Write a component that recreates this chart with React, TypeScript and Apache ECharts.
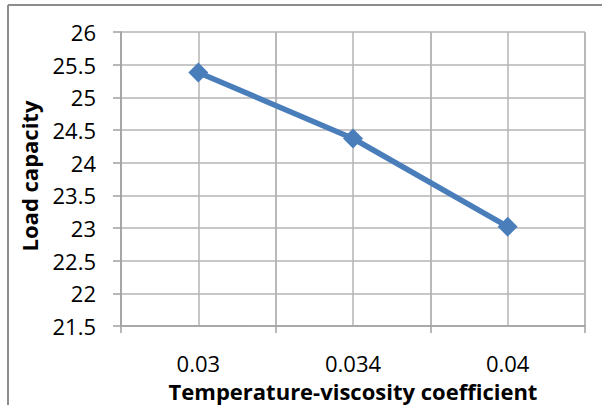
import React, { useEffect, useRef } from "react";
import * as echarts from "echarts";

// Temperature-viscosity coefficient vs. load capacity
const categories: string[] = ["0.03", "0.034", "0.04"];
const loadCapacity: number[] = [25.38, 24.37, 23.02];
const yMin = 21.5;
const yMax = 26;
const yStep = 0.5;

const xTitle = "Temperature-viscosity coefficient";
const yTitle = "Load capacity";

const FONT = "'Open Sans', sans-serif";
const GRID = "#b4b4b4";
const AXIS = "#a0a0a0";
const LINE = "#4a7ebb";

export default function App() {
  const ref = useRef<HTMLDivElement>(null);

  useEffect(() => {
    if (!ref.current) return;
    const chart = echarts.init(ref.current, null, { renderer: "svg" });
    chart.setOption({
      animation: false,
      backgroundColor: "#ffffff",
      grid: { left: 121, right: 17, top: 32, bottom: 79, containLabel: false },
      xAxis: [
        {
          type: "category",
          data: categories,
          boundaryGap: true,
          axisLine: { show: true, lineStyle: { color: AXIS, width: 1.5 } },
          axisTick: { show: true, length: 7, lineStyle: { color: AXIS, width: 1.5 } },
          axisLabel: {
            color: "#000",
            fontFamily: FONT,
            fontSize: 22,
            lineHeight: 22,
            margin: 26,
          },
          splitLine: { show: true, lineStyle: { color: GRID, width: 1.5 } },
        },
        {
          // half-category grid lines through each point
          type: "value",
          min: 0,
          max: 6,
          interval: 1,
          position: "bottom",
          axisLine: { show: false },
          axisTick: { show: false },
          axisLabel: { show: false },
          splitLine: { show: true, lineStyle: { color: GRID, width: 1.5 } },
        },
      ],
      yAxis: {
        type: "value",
        min: yMin,
        max: yMax,
        interval: yStep,
        axisLine: { show: true, lineStyle: { color: AXIS, width: 1.5 } },
        axisTick: { show: true, length: 8, lineStyle: { color: AXIS, width: 1.5 } },
        axisLabel: {
          color: "#000",
          fontFamily: FONT,
          fontSize: 22,
          lineHeight: 22,
          margin: 25,
        },
        splitLine: { show: true, lineStyle: { color: GRID, width: 1.5 } },
      },
      graphic: [
        {
          type: "line",
          shape: { x1: 8, y1: 5, x2: 602, y2: 5 },
          style: { stroke: "#8c8c8c", lineWidth: 2 },
        },
        {
          type: "line",
          shape: { x1: 8, y1: 5, x2: 8, y2: 405 },
          style: { stroke: "#8c8c8c", lineWidth: 2 },
        },
        {
          type: "text",
          x: 353,
          y: 391,
          style: {
            text: xTitle,
            fontFamily: FONT,
            fontWeight: "bold",
            fontSize: 22,
            lineHeight: 22,
            fill: "#000",
            align: "center",
            verticalAlign: "middle",
          },
        },
        {
          type: "text",
          x: 29,
          y: 176,
          rotation: Math.PI / 2,
          style: {
            text: yTitle,
            fontFamily: FONT,
            fontWeight: "bold",
            fontSize: 22,
            lineHeight: 22,
            fill: "#000",
            align: "center",
            verticalAlign: "middle",
          },
        },
      ],
      series: [
        {
          type: "line",
          xAxisIndex: 0,
          data: loadCapacity,
          symbol: "diamond",
          symbolSize: 20,
          lineStyle: { color: LINE, width: 5.5 },
          itemStyle: { color: LINE },
        },
      ],
    });
    return () => chart.dispose();
  }, []);

  return (
    <div
      ref={ref}
      style={{ position: "fixed", left: 0, top: 0, width: 602, height: 405 }}
    />
  );
}
